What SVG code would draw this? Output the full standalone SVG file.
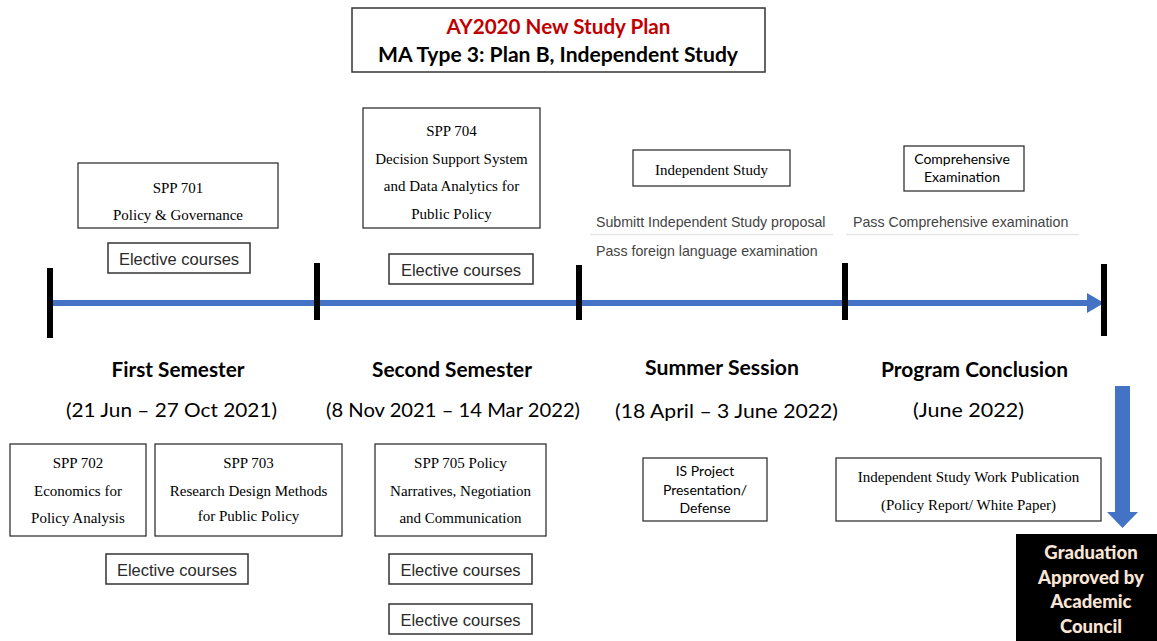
<svg xmlns="http://www.w3.org/2000/svg" width="1157" height="641" viewBox="0 0 1157 641">
<style>
.bg{fill:#ffffff}
.box{fill:#ffffff;stroke:#333333;stroke-width:1.3}
.ebox{fill:#ffffff;stroke:#333333;stroke-width:1.5}
.serif{font-family:"Liberation Serif","Times New Roman",serif;font-size:15px;fill:#000000;text-anchor:middle}
.sans{font-family:Lato,"Liberation Sans",sans-serif;font-size:14px;fill:#000000;text-anchor:middle}
.elec{font-family:"Liberation Sans",Arial,sans-serif;font-size:16.5px;fill:#2a2a2a;text-anchor:middle}
.req{font-family:"Liberation Sans",Arial,sans-serif;font-size:14.2px;fill:#444444}
.sep{stroke:#e6e6e6;stroke-width:1.5}
.head{font-family:Lato,"Liberation Sans",sans-serif;font-size:20px;font-weight:bold;fill:#000000;text-anchor:middle}
.date{font-family:Lato,"Liberation Sans",sans-serif;font-size:20px;fill:#000000;text-anchor:middle}
.title{font-family:Lato,"Liberation Sans",sans-serif;font-size:20px;font-weight:bold;text-anchor:middle}
.tick{fill:#000000}
.blue{fill:#4472c4}
.grad{font-family:Lato,"Liberation Sans",sans-serif;font-size:18.5px;font-weight:900;fill:#fbe5d6;text-anchor:middle}
</style>
<rect class="bg" x="0" y="0" width="1157" height="641"/>

<g id="title">
<rect x="352" y="8" width="413" height="64" fill="#ffffff" stroke="#333333" stroke-width="1.5"/>
<text class="title" x="558.5" y="34" fill="#c00000" textLength="224" lengthAdjust="spacingAndGlyphs">AY2020 New Study Plan</text>
<text class="title" x="558" y="62" fill="#000000" textLength="360" lengthAdjust="spacingAndGlyphs">MA Type 3: Plan B, Independent Study</text>
</g>

<g id="connectors">
<rect class="blue" x="50" y="300" width="1040" height="6"/>
<polygon class="blue" points="1087,293 1104,303 1087,313"/>
<rect class="tick" x="47" y="268" width="6" height="70"/>
<rect class="tick" x="314" y="263" width="6" height="57"/>
<rect class="tick" x="576" y="265" width="6" height="55"/>
<rect class="tick" x="842" y="263" width="6" height="57"/>
<rect class="tick" x="1101" y="264" width="6" height="72"/>
<rect class="blue" x="1115" y="386" width="15" height="127"/>
<polygon class="blue" points="1107,512 1138,512 1122.5,528"/>
</g>

<g id="spp701">
<rect class="box" x="78" y="163" width="200" height="65"/>
<text class="serif" x="178" y="193">SPP 701</text>
<text class="serif" x="178" y="220">Policy &amp; Governance</text>
</g>
<g id="elective1a">
<rect class="ebox" x="108" y="243" width="142" height="30"/>
<text class="elec" x="179" y="265">Elective courses</text>
</g>

<g id="spp704">
<rect class="box" x="363" y="108" width="177" height="120"/>
<text class="serif" x="451.5" y="136">SPP 704</text>
<text class="serif" x="451.5" y="164">Decision Support System</text>
<text class="serif" x="451.5" y="191">and Data Analytics for</text>
<text class="serif" x="451.5" y="219">Public Policy</text>
</g>
<g id="elective2a">
<rect class="ebox" x="389" y="254" width="144" height="30"/>
<text class="elec" x="461" y="276">Elective courses</text>
</g>

<g id="independent-study">
<rect class="box" x="633" y="150" width="157" height="36"/>
<text class="serif" x="711.5" y="175">Independent Study</text>
</g>
<g id="comprehensive">
<rect class="box" x="904" y="146" width="120" height="45"/>
<text class="sans" x="962" y="164">Comprehensive</text>
<text class="sans" x="962" y="182">Examination</text>
</g>

<g id="summer-reqs">
<text class="req" x="596" y="227">Submitt Independent Study proposal</text>
<line class="sep" x1="590" y1="234.5" x2="833" y2="234.5"/>
<text class="req" x="596" y="256">Pass foreign language examination</text>
</g>
<g id="conclusion-reqs">
<text class="req" x="853" y="227">Pass Comprehensive examination</text>
<line class="sep" x1="846" y1="234.5" x2="1079" y2="234.5"/>
</g>

<g id="first-semester">
<text class="head" x="178" y="377" textLength="133" lengthAdjust="spacingAndGlyphs">First Semester</text>
<text class="date" x="171.5" y="417" textLength="211" lengthAdjust="spacingAndGlyphs">(21 Jun – 27 Oct 2021)</text>
</g>
<g id="second-semester">
<text class="head" x="452" y="377" textLength="160" lengthAdjust="spacingAndGlyphs">Second Semester</text>
<text class="date" x="453" y="417" textLength="254" lengthAdjust="spacingAndGlyphs">(8 Nov 2021 – 14 Mar 2022)</text>
</g>
<g id="summer-session">
<text class="head" x="722" y="375" textLength="154" lengthAdjust="spacingAndGlyphs">Summer Session</text>
<text class="date" x="726.5" y="418" textLength="223" lengthAdjust="spacingAndGlyphs">(18 April – 3 June 2022)</text>
</g>
<g id="program-conclusion">
<text class="head" x="974.5" y="377" textLength="187" lengthAdjust="spacingAndGlyphs">Program Conclusion</text>
<text class="date" x="968.5" y="417" textLength="111" lengthAdjust="spacingAndGlyphs">(June 2022)</text>
</g>

<g id="spp702">
<rect class="box" x="10" y="444" width="136" height="92"/>
<text class="serif" x="78" y="468">SPP 702</text>
<text class="serif" x="78" y="496">Economics for</text>
<text class="serif" x="78" y="523">Policy Analysis</text>
</g>
<g id="spp703">
<rect class="box" x="155" y="444" width="187" height="92"/>
<text class="serif" x="248.5" y="468">SPP 703</text>
<text class="serif" x="248.5" y="496">Research Design Methods</text>
<text class="serif" x="248.5" y="521">for Public Policy</text>
</g>
<g id="spp705">
<rect class="box" x="375" y="444" width="171" height="92"/>
<text class="serif" x="460.5" y="468">SPP 705 Policy</text>
<text class="serif" x="460.5" y="496">Narratives, Negotiation</text>
<text class="serif" x="460.5" y="523">and Communication</text>
</g>
<g id="elective1b">
<rect class="ebox" x="106" y="554" width="142" height="30"/>
<text class="elec" x="177" y="576">Elective courses</text>
</g>
<g id="elective2b">
<rect class="ebox" x="389" y="554" width="143" height="30"/>
<text class="elec" x="460.5" y="576">Elective courses</text>
</g>
<g id="elective2c">
<rect class="ebox" x="389" y="604" width="143" height="30"/>
<text class="elec" x="460.5" y="626">Elective courses</text>
</g>

<g id="is-project">
<rect class="box" x="643" y="458" width="124" height="63"/>
<text class="sans" x="705" y="476">IS Project</text>
<text class="sans" x="705" y="495">Presentation/</text>
<text class="sans" x="705" y="513">Defense</text>
</g>
<g id="is-publication">
<rect class="box" x="836" y="458" width="265" height="63"/>
<text class="serif" x="968.5" y="482">Independent Study Work Publication</text>
<text class="serif" x="968.5" y="510">(Policy Report/ White Paper)</text>
</g>

<g id="graduation">
<rect x="1016" y="534" width="141" height="107" fill="#000000"/>
<text class="grad" x="1091" y="559">Graduation</text>
<text class="grad" x="1091" y="584">Approved by</text>
<text class="grad" x="1091" y="608">Academic</text>
<text class="grad" x="1091" y="633">Council</text>
</g>
</svg>
